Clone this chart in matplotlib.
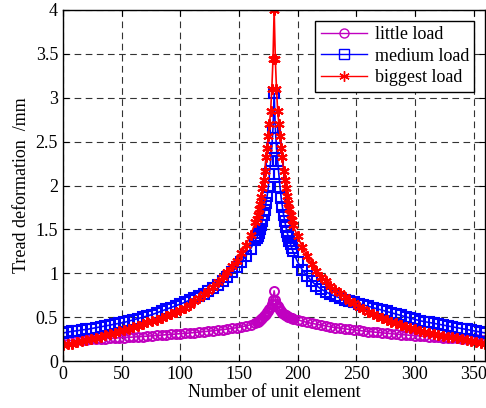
import matplotlib
matplotlib.use("Agg")
import matplotlib.pyplot as plt

# unit element indices (left flank, peak region, right flank)
x_left = list(range(0, 165, 4))
x_mid = list(range(165, 196, 1))
x_right = list(range(196, 361, 4))
x_all = x_left + x_mid + x_right

little_left = [0.23, 0.232, 0.235, 0.238, 0.241, 0.244, 0.247, 0.25, 0.253, 0.256,
               0.259, 0.262, 0.265, 0.268, 0.271, 0.274, 0.277, 0.28, 0.284, 0.288,
               0.292, 0.296, 0.3, 0.304, 0.308, 0.312, 0.316, 0.32, 0.325, 0.33,
               0.335, 0.34, 0.346, 0.352, 0.358, 0.365, 0.372, 0.38, 0.39, 0.4,
               0.415, 0.435]
little_mid = [0.44, 0.45, 0.46, 0.47, 0.48, 0.495, 0.51, 0.525, 0.54, 0.555, 0.57, 0.59,
              0.615, 0.645, 0.7, 0.8,
              0.7, 0.655, 0.625, 0.6, 0.58, 0.565, 0.55, 0.54, 0.53, 0.52, 0.51, 0.505,
              0.5, 0.495, 0.49]
little_right = [0.485, 0.47, 0.455, 0.44, 0.43, 0.42, 0.41, 0.4, 0.39, 0.382,
                0.375, 0.368, 0.361, 0.355, 0.349, 0.343, 0.337, 0.332, 0.327, 0.322,
                0.317, 0.312, 0.307, 0.302, 0.298, 0.294, 0.29, 0.286, 0.282, 0.278,
                0.274, 0.27, 0.267, 0.264, 0.261, 0.258, 0.255, 0.252, 0.249, 0.246,
                0.243, 0.24]

medium_left = [0.32, 0.33, 0.34, 0.345, 0.355, 0.36, 0.37, 0.38, 0.39, 0.40,
               0.41, 0.42, 0.43, 0.44, 0.455, 0.47, 0.485, 0.5, 0.515, 0.53,
               0.55, 0.57, 0.59, 0.61, 0.63, 0.65, 0.67, 0.695, 0.715, 0.74,
               0.76, 0.795, 0.83, 0.87, 0.915, 0.96, 1.01, 1.07, 1.13, 1.2,
               1.28, 1.38]
medium_mid = [1.4, 1.43, 1.46, 1.5, 1.55, 1.6, 1.66, 1.72, 1.8, 1.88, 1.98, 2.13,
              2.28, 2.43, 2.65, 3.05,
              2.65, 2.43, 2.28, 2.13, 1.98, 1.86, 1.76, 1.67, 1.6, 1.53, 1.47, 1.42,
              1.37, 1.33, 1.29]
medium_right = [1.25, 1.13, 1.04, 0.97, 0.91, 0.86, 0.82, 0.79, 0.76, 0.74,
                0.72, 0.70, 0.685, 0.67, 0.655, 0.64, 0.625, 0.61, 0.595, 0.58,
                0.565, 0.55, 0.535, 0.52, 0.505, 0.49, 0.475, 0.46, 0.45, 0.44,
                0.43, 0.42, 0.41, 0.40, 0.39, 0.38, 0.37, 0.36, 0.35, 0.34,
                0.33, 0.32]

biggest_left = [0.18, 0.19, 0.20, 0.215, 0.225, 0.24, 0.25, 0.265, 0.28, 0.295,
                0.31, 0.325, 0.34, 0.355, 0.37, 0.39, 0.405, 0.42, 0.44, 0.455,
                0.47, 0.49, 0.515, 0.535, 0.555, 0.58, 0.61, 0.64, 0.68, 0.72,
                0.76, 0.8, 0.845, 0.9, 0.955, 1.02, 1.08, 1.14, 1.23, 1.32,
                1.44, 1.58]
biggest_mid = [1.62, 1.67, 1.73, 1.79, 1.87, 1.97, 2.06, 2.17, 2.32, 2.43, 2.57, 2.7,
               2.85, 3.1, 3.44, 4.0,
               3.44, 3.1, 2.85, 2.7, 2.57, 2.43, 2.32, 2.17, 2.06, 1.97, 1.88, 1.8,
               1.73, 1.67, 1.61]
biggest_right = [1.55, 1.42, 1.3, 1.2, 1.11, 1.03, 0.96, 0.91, 0.86, 0.81,
                 0.77, 0.73, 0.69, 0.66, 0.62, 0.59, 0.56, 0.535, 0.51, 0.49,
                 0.47, 0.45, 0.43, 0.41, 0.39, 0.375, 0.36, 0.345, 0.335, 0.32,
                 0.31, 0.3, 0.29, 0.28, 0.27, 0.26, 0.25, 0.24, 0.23, 0.22,
                 0.21, 0.2]

series_names = ["little load", "medium load", "biggest load"]
x_ticks = [0, 50, 100, 150, 200, 250, 300, 350]
y_ticks = [0, 0.5, 1, 1.5, 2, 2.5, 3, 3.5, 4]
y_ticklabels = ["0", "0.5", "1", "1.5", "2", "2.5", "3", "3.5", "4"]

plt.rcParams['font.family'] = ['Liberation Serif', 'DejaVu Serif']

fig = plt.figure(figsize=(4.86, 4.08), dpi=100)
ax = fig.add_axes([0.1296, 0.115, 0.869, 0.8605])

series = [
    (little_left + little_mid + little_right, "#C000C0", "o", 6.5, 1.4),
    (medium_left + medium_mid + medium_right, "#0000FF", "s", 6.5, 1.5),
    (biggest_left + biggest_mid + biggest_right, "#FF0000", (6, 2, 0), 7.5, 1.5),
]
for (vals, col, mk, ms, mew), name in zip(series, series_names):
    ax.plot(x_all, vals, color=col, marker=mk, markersize=ms, markerfacecolor='none',
            markeredgecolor=col, markeredgewidth=mew, linewidth=1.2, label=name)

ax.set_xlim(0, 360)
ax.set_ylim(0, 4)
ax.set_xticks(x_ticks)
ax.set_yticks(y_ticks)
ax.set_yticklabels(y_ticklabels)
ax.tick_params(direction='in', top=True, right=True, labelsize=13, length=4, width=0.8)
ax.grid(True, color='0.2', linestyle=(0, (6, 4)), linewidth=0.8)
for s in ax.spines.values():
    s.set_linewidth(1.0)
    s.set_color('black')

ax.set_xlabel("Number of unit element", fontsize=13, labelpad=1)
ax.set_ylabel("Tread deformation  /mm", fontsize=13, labelpad=4)

leg = ax.legend(loc='upper right', fontsize=13, frameon=True, fancybox=False,
                edgecolor='black', framealpha=1.0, borderpad=0.3, labelspacing=0.25,
                handlelength=2.6, handletextpad=0.4, borderaxespad=0.6)
leg.get_frame().set_linewidth(1.0)
for h in leg.legend_handles:
    h.set_markeredgewidth(1.0)
    h.set_linewidth(1.0)

fig.savefig("out.png", dpi=100)
